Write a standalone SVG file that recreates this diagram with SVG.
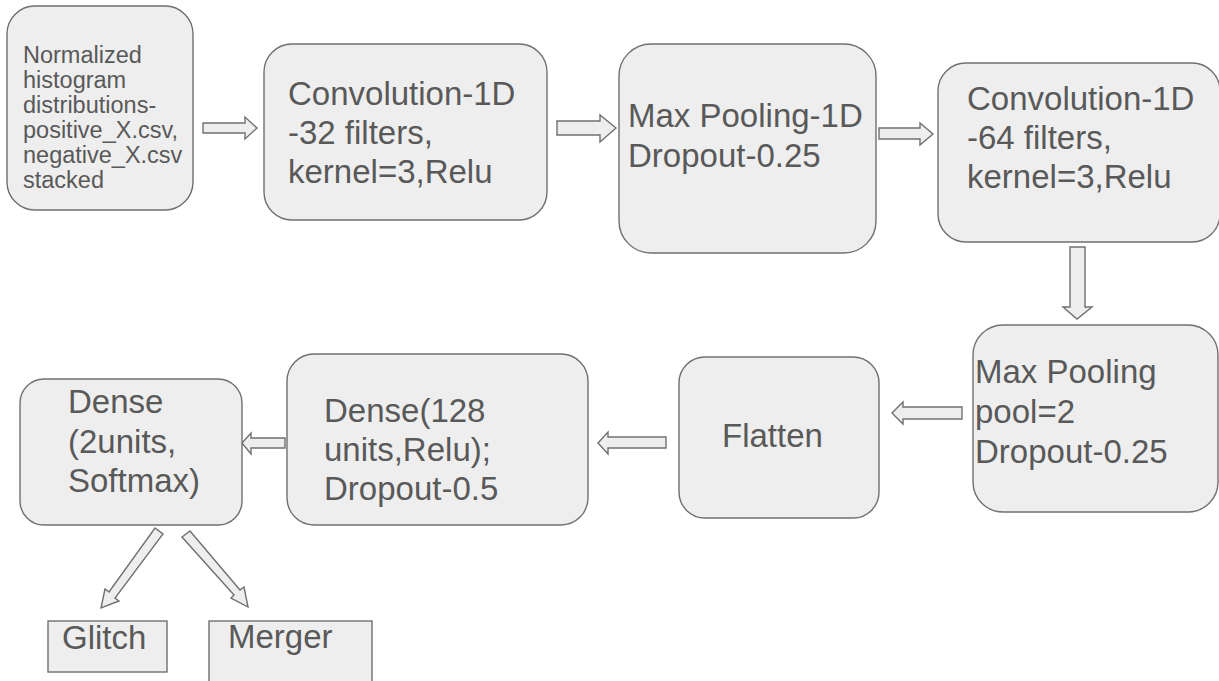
<svg xmlns="http://www.w3.org/2000/svg" width="1219" height="681" viewBox="0 0 1219 681">
<style>
.box{fill:#eeeeee;stroke:#707070;stroke-width:1.4}
.t{font-family:"Liberation Sans",Arial,sans-serif;font-size:33px;fill:#595959}
.s{font-family:"Liberation Sans",Arial,sans-serif;font-size:23.5px;fill:#595959}
.arr{fill:#eeeeee;stroke:#707070;stroke-width:1.4;stroke-linejoin:miter}
</style>
<rect width="1219" height="681" fill="#ffffff"/>
<g id="connectors">
<polygon class="arr" points="203,123 245,123 245,117 257,128 245,139 245,133 203,133"/>
<polygon class="arr" points="557,121 600,121 600,115 616,128 600,142 600,135 557,135"/>
<polygon class="arr" points="879,128 920,128 920,123 933,134 920,145 920,139 879,139"/>
<polygon class="arr" points="1070,247 1085,247 1085,307 1092,307 1077,319 1063,307 1070,307"/>
<polygon class="arr" points="962,407 903,407 903,402 892,413 903,424 903,419 962,419"/>
<polygon class="arr" points="666,437 608,437 608,432 598,443 608,454 608,448 666,448"/>
<polygon class="arr" points="285,438 251,438 251,433 242,443 251,454 251,448 285,448"/>
<polygon class="arr" points="155,528 163,534 115,598 119,601 101,608 105,589 109,592"/>
<polygon class="arr" points="182,537 190,531 240,590 244,587 248,607 231,598 234,595"/>
</g>
<g id="input">
<rect class="box" x="7" y="6" width="186" height="204" rx="28"/>
<text class="s" x="23" y="63">Normalized</text>
<text class="s" x="23" y="88">histogram</text>
<text class="s" x="23" y="113">distributions-</text>
<text class="s" x="23" y="138">positive_X.csv,</text>
<text class="s" x="23" y="163">negative_X.csv</text>
<text class="s" x="23" y="188">stacked</text>
</g>
<g id="conv1">
<rect class="box" x="264" y="44" width="283" height="176" rx="28"/>
<text class="t" x="288" y="105">Convolution-1D</text>
<text class="t" x="288" y="144">-32 filters,</text>
<text class="t" x="288" y="183">kernel=3,Relu</text>
</g>
<g id="pool1">
<rect class="box" x="619" y="44" width="257" height="209" rx="32"/>
<text class="t" x="628" y="127">Max Pooling-1D</text>
<text class="t" x="628" y="167">Dropout-0.25</text>
</g>
<g id="conv2">
<rect class="box" x="938" y="63" width="282" height="179" rx="28"/>
<text class="t" x="967" y="110">Convolution-1D</text>
<text class="t" x="967" y="149">-64 filters,</text>
<text class="t" x="967" y="188">kernel=3,Relu</text>
</g>
<g id="pool2">
<rect class="box" x="973" y="325" width="245" height="187" rx="30"/>
<text class="t" x="975" y="383">Max Pooling</text>
<text class="t" x="975" y="423">pool=2</text>
<text class="t" x="975" y="463">Dropout-0.25</text>
</g>
<g id="flatten">
<rect class="box" x="679" y="357" width="200" height="161" rx="26"/>
<text class="t" x="722" y="447">Flatten</text>
</g>
<g id="dense128">
<rect class="box" x="287" y="354" width="301" height="171" rx="27"/>
<text class="t" x="324" y="422">Dense(128</text>
<text class="t" x="324" y="461">units,Relu);</text>
<text class="t" x="324" y="500">Dropout-0.5</text>
</g>
<g id="dense2">
<rect class="box" x="20" y="379" width="222" height="146" rx="24"/>
<text class="t" x="68" y="413">Dense</text>
<text class="t" x="68" y="453">(2units,</text>
<text class="t" x="68" y="492">Softmax)</text>
</g>
<g id="glitch">
<rect class="box" x="48" y="621" width="119" height="51"/>
<text class="t" x="62" y="649">Glitch</text>
</g>
<g id="merger">
<rect class="box" x="209" y="621" width="163" height="64"/>
<text class="t" x="228" y="648">Merger</text>
</g>
</svg>
